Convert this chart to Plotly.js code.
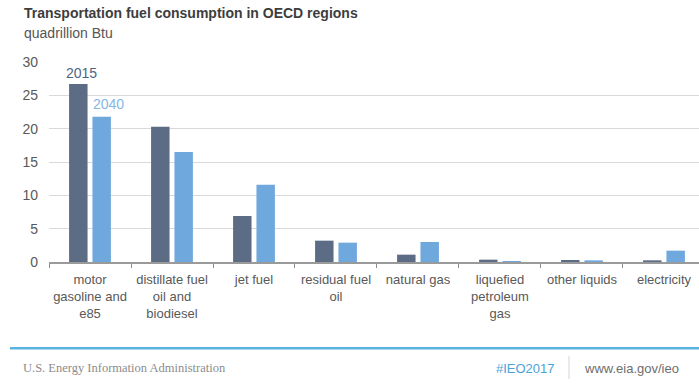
<!DOCTYPE html>
<html>
<head>
<meta charset="utf-8">
<script src="https://cdn.plot.ly/plotly-3.0.1.min.js"></script>
<style>html,body{margin:0;padding:0;background:#fff;}#chart{width:699px;height:389px;}</style>
</head>
<body>
<div id="chart"></div>
<script>
var categories = ["motor<br>gasoline and<br>e85", "distillate fuel<br>oil and<br>biodiesel", "jet fuel", "residual fuel<br>oil", "natural gas", "liquefied<br>petroleum<br>gas", "other liquids", "electricity"];
var seriesNames = ["2015", "2040"];
var values2015 = [26.7, 20.3, 6.9, 3.2, 1.1, 0.35, 0.3, 0.25];
var values2040 = [21.8, 16.5, 11.6, 2.9, 3.0, 0.15, 0.25, 1.7];
var yTicks = [0, 5, 10, 15, 20, 25, 30];

var FONT = "Liberation Sans, Arial, sans-serif";
var c2015 = "#5b6c84";
var c2040 = "#6fa8dc";

var traces = [
  {type: "bar", name: seriesNames[0], x: categories, y: values2015, marker: {color: c2015}, hoverinfo: "y"},
  {type: "bar", name: seriesNames[1], x: categories, y: values2040, marker: {color: c2040}, hoverinfo: "y"}
];

var layout = {
  width: 699, height: 389,
  margin: {l: 49, r: 0, t: 62, b: 127, pad: 0},
  paper_bgcolor: "#ffffff", plot_bgcolor: "#ffffff",
  showlegend: false,
  barmode: "group",
  bargap: 0.43,
  bargroupgap: 0.21,
  font: {family: FONT, size: 14, color: "#595959"},
  xaxis: {
    type: "category",
    range: [-0.5, 7.427],
    tickson: "boundaries",
    ticks: "outside", ticklen: 4, tickcolor: "#8c8c8c", tickwidth: 1,
    showline: true, linecolor: "#9a9a9a", linewidth: 1.5,
    showgrid: false, zeroline: false,
    tickfont: {family: FONT, size: 13, color: "#595959"},
    ticklabelstandoff: 5,
    tickangle: 0,
    fixedrange: true
  },
  yaxis: {
    range: [0, 30],
    tickvals: yTicks,
    ticktext: yTicks.map(String),
    showline: false, zeroline: false,
    showgrid: true, gridcolor: "#d9d9d9", gridwidth: 1,
    ticks: "", ticklabelstandoff: 10,
    tickfont: {family: FONT, size: 14, color: "#595959"},
    fixedrange: true
  },
  annotations: [
    {xref: "paper", yref: "paper", x: -0.0415, y: 1.2465, xanchor: "left", yanchor: "middle", showarrow: false,
     text: "<b>Transportation fuel consumption in OECD regions</b>", font: {family: FONT, size: 14, color: "#3d3d3d"}},
    {xref: "paper", yref: "paper", x: -0.0415, y: 1.145, xanchor: "left", yanchor: "middle", showarrow: false,
     text: "quadrillion Btu", font: {family: FONT, size: 14, color: "#555555"}},
    {xref: "x", yref: "y", x: categories[0], y: values2015[0], xshift: -9, yshift: 1, xanchor: "center", yanchor: "bottom", showarrow: false,
     text: seriesNames[0], font: {family: FONT, size: 14, color: "#4d6585"}},
    {xref: "x", yref: "y", x: categories[0], y: values2040[0], xshift: 18.5, yshift: 2.5, xanchor: "center", yanchor: "bottom", showarrow: false,
     text: seriesNames[1], font: {family: FONT, size: 14, color: "#86b6e2"}},
    {xref: "paper", yref: "paper", x: -0.0431, y: -0.53, xanchor: "left", yanchor: "middle", showarrow: false,
     text: "U.S. Energy Information Administration", font: {family: "Liberation Serif, Times New Roman, serif", size: 12.5, color: "#8c8c8c"}},
    {xref: "paper", yref: "paper", x: 0.733, y: -0.53, xanchor: "center", yanchor: "middle", showarrow: false,
     text: "#IEO2017", font: {family: FONT, size: 13, color: "#4ba3d6"}},
    {xref: "paper", yref: "paper", x: 0.82, y: -0.53, xanchor: "left", yanchor: "middle", showarrow: false,
     text: "www.eia.gov/ieo", font: {family: FONT, size: 13, color: "#6e6e6e"}}
  ],
  shapes: [
    {type: "line", xref: "paper", yref: "paper", x0: -0.06, x1: 1.0, y0: -0.4315, y1: -0.4315, line: {color: "#5ab4e0", width: 2.5}},
    {type: "line", xref: "paper", yref: "paper", x0: 0.8, x1: 0.8, y0: -0.47, y1: -0.585, line: {color: "#d5d5d5", width: 1}}
  ]
};

Plotly.newPlot("chart", traces, layout, {displayModeBar: false, staticPlot: true});
</script>
</body>
</html>
